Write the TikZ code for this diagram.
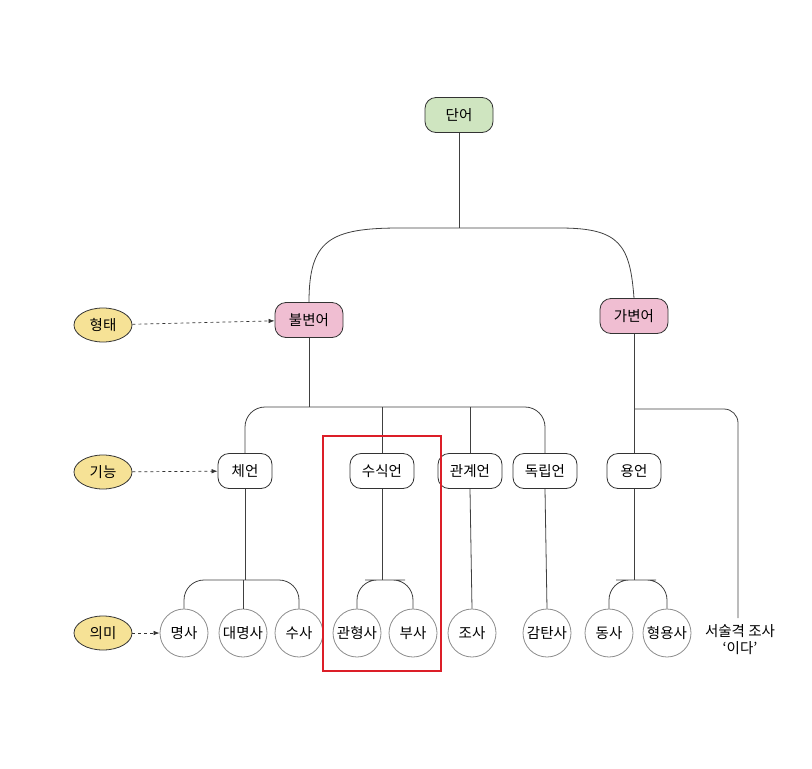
\documentclass[tikz,border=0pt]{standalone}
\usepackage{fontspec}
\setmainfont{Noto Sans CJK KR}
\usetikzlibrary{arrows.meta,shapes.geometric}
\begin{document}
\begin{tikzpicture}[x=1pt,y=-1pt,
  ln/.style={draw=black!75,line width=0.8pt},
  box/.style={draw=black!80,line width=0.8pt,rounded corners=11pt,minimum height=35pt,inner sep=2pt,font=\fontsize{14.5}{16}\selectfont},
  green/.style={box,fill={rgb,255:red,207;green,229;blue,192},minimum width=68pt},
  pink/.style={box,fill={rgb,255:red,240;green,190;blue,210},minimum width=68pt},
  wbox/.style={box,fill=white,minimum width=54pt},
  tag/.style={ellipse,draw=black!80,line width=0.8pt,fill={rgb,255:red,246;green,226;blue,150},minimum width=58pt,minimum height=34pt,inner sep=1pt,font=\fontsize{14.5}{16}\selectfont},
  circ/.style={circle,draw=black!45,line width=0.8pt,fill=white,minimum size=48pt,inner sep=0pt,font=\fontsize{14.5}{16}\selectfont},
  dar/.style={draw=black!80,dashed,line width=0.7pt,-{Latex[length=6pt]}}]
\useasboundingbox (0,0) rectangle (812,769);
\node[green] (word) at (459,115) {단어};
\node[pink] (inv) at (309,320) {불변어};
\node[pink] (var) at (634,316) {가변어};
\node[tag] (t1) at (103,325) {형태};
\node[tag] (t2) at (103,472) {기능};
\node[tag] (t3) at (103,633) {의미};
\node[wbox] (c1) at (245,471) {체언};
\node[wbox,minimum width=64pt] (c2) at (382,471) {수식언};
\node[wbox,minimum width=64pt] (c3) at (470,471) {관계언};
\node[wbox,minimum width=64pt] (c4) at (545,471) {독립언};
\node[wbox] (c5) at (634,471) {용언};
\node[circ] (m1) at (184,633) {명사};
\node[circ] (m2) at (243,633) {대명사};
\node[circ] (m3) at (299,633) {수사};
\node[circ] (m4) at (357,633) {관형사};
\node[circ] (m5) at (413,633) {부사};
\node[circ] (m6) at (472,633) {조사};
\node[circ] (m7) at (547,633) {감탄사};
\node[circ] (m8) at (609,633) {동사};
\node[circ] (m9) at (667,633) {형용사};
\node[align=center,font=\fontsize{14.5}{17}\selectfont] (m10) at (740,640) {서술격 조사\\‘이다’};
\coordinate (e10) at (738,618);
\draw[dar] (t1) -- (inv);
\draw[dar] (t2) -- (c1);
\draw[dar] (t3) -- (m1);
\draw[ln] (word.south) -- (459,228);
\draw[ln] (inv.north) .. controls (309,240) and (330,228) .. (400,228) -- (560,228) .. controls (620,228) and (630,245) .. (var.north);
\draw[ln] (inv.south) -- (309,407);
\draw[ln,rounded corners=20pt] (c1.north) |- (309,407) -- (545,407) -- (c4.north);
\draw[ln] (382,407) -- (c2.north);
\draw[ln] (470,407) -- (c3.north);
\draw[ln] (var.south) -- (c5.north);
\draw[ln,rounded corners=14pt] (634,409) -- (738,409) -- (e10);
\draw[ln] (c1.south) -- (245,580);
\draw[ln,rounded corners=20pt] (m1.north) |- (243,580) -| (m3.north);
\draw[ln] (m2.north) -- (243,580);
\draw[ln] (c2.south) -- (382,580);
\draw[ln,rounded corners=20pt] (m4.north) |- (385,580) -| (m5.north);
\draw[ln] (c3.south) -- (m6.north);
\draw[ln] (c4.south) -- (m7.north);
\draw[ln] (c5.south) -- (634,580);
\draw[ln,rounded corners=20pt] (m8.north) |- (636,580) -| (m9.north);
\draw[draw={rgb,255:red,220;green,30;blue,40},line width=2.5pt] (323,436) rectangle (441,671);
\end{tikzpicture}
\end{document}
